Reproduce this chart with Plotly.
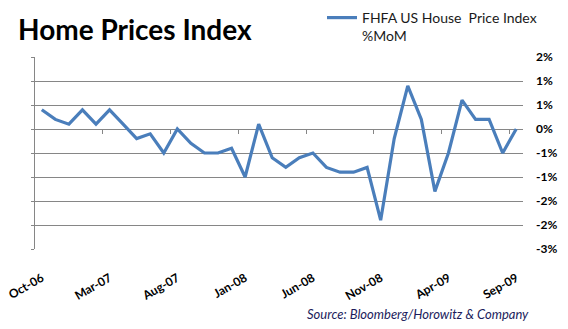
import plotly.graph_objects as go

months = ["Oct-06", "Nov-06", "Dec-06", "Jan-07", "Feb-07", "Mar-07", "Apr-07", "May-07",
          "Jun-07", "Jul-07", "Aug-07", "Sep-07", "Oct-07", "Nov-07", "Dec-07", "Jan-08",
          "Feb-08", "Mar-08", "Apr-08", "May-08", "Jun-08", "Jul-08", "Aug-08", "Sep-08",
          "Oct-08", "Nov-08", "Dec-08", "Jan-09", "Feb-09", "Mar-09", "Apr-09", "May-09",
          "Jun-09", "Jul-09", "Aug-09", "Sep-09"]
mom_pct = [0.4, 0.2, 0.1, 0.4, 0.1, 0.4, 0.1, -0.2, -0.1, -0.5, 0.0, -0.3,
           -0.5, -0.5, -0.4, -1.0, 0.1, -0.6, -0.8, -0.6, -0.5, -0.8, -0.9, -0.9,
           -0.8, -1.9, -0.2, 0.9, 0.2, -1.3, -0.5, 0.6, 0.2, 0.2, -0.5, 0.0]
y_tickvals = [1.5, 1.0, 0.5, 0.0, -0.5, -1.0, -1.5, -2.0, -2.5]
y_ticktext = ["2%", "1%", "1%", "0%", "-1%", "-1%", "-2%", "-2%", "-3%"]
x_label_step = 5
series_name = "FHFA US House  Price Index<br>%MoM"
title_text = "Home Prices Index"
source_text = "Source: Bloomberg/Horowitz & Company"

y_range = [-2.5, 1.5]
n = len(months)
grid = "#868686"

fig = go.Figure()
fig.add_trace(go.Scatter(x=months, y=mom_pct, mode="lines", name=series_name,
                         line=dict(color="#4A7EBB", width=3.2), showlegend=True))
# helper traces to activate overlay axes
fig.add_trace(go.Scatter(x=[], y=[], xaxis="x", yaxis="y2", showlegend=False, hoverinfo="skip"))
fig.add_trace(go.Scatter(x=[], y=[], xaxis="x2", yaxis="y", showlegend=False, hoverinfo="skip"))

fig.update_layout(
    width=568, height=329,
    margin=dict(l=35, r=45, t=57, b=80, autoexpand=False),
    paper_bgcolor="white", plot_bgcolor="white",
    font=dict(family="Lato", color="#000000"),
    title=dict(text="<b>" + title_text + "</b>", x=18 / 568, xanchor="left", xref="container",
               y=1 - 30 / 329, yanchor="middle", yref="container",
               font=dict(family="Lato", size=28, color="#000000")),
    xaxis=dict(type="category", range=[-0.5, n - 0.5], tickvals=months[::x_label_step],
               ticktext=months[::x_label_step], tickangle=-30, showgrid=False, showline=False,
               ticks="", zeroline=False, ticklabelstandoff=19,
               tickfont=dict(family="Lato", size=12, color="#000000", weight="bold")),
    xaxis2=dict(overlaying="x", anchor="free",
                position=(0 - y_range[0]) / (y_range[1] - y_range[0]),
                range=[-0.5, n - 0.5],
                tickvals=[k - 0.5 for k in range(x_label_step, n, x_label_step)],
                ticks="outside", ticklen=4, tickcolor=grid, showticklabels=False,
                showgrid=False, showline=False, zeroline=False),
    yaxis=dict(range=y_range, side="right", tickvals=y_tickvals, ticktext=y_ticktext,
               showgrid=True, gridcolor=grid, gridwidth=1, zeroline=False, showline=False,
               ticks="", ticklabelstandoff=12,
               tickfont=dict(family="Lato", size=12, color="#000000", weight="bold")),
    yaxis2=dict(overlaying="y", side="left", range=y_range, tickvals=y_tickvals,
                showticklabels=False, ticks="outside", ticklen=3, tickcolor=grid,
                showline=True, linecolor=grid, linewidth=1, showgrid=False, zeroline=False),
    legend=dict(x=322 / 568, xref="container", xanchor="left", y=1 - 2 / 329, yref="container",
                yanchor="top", valign="top", bgcolor="rgba(0,0,0,0)",
                font=dict(family="Lato", size=14, color="#1a1a1a"), tracegroupgap=0),
    annotations=[dict(text="<i>" + source_text + "</i>", xref="paper", yref="paper",
                      x=(531 - 35) / 488, xanchor="right", y=(249 - 314) / 192, yanchor="middle",
                      showarrow=False, font=dict(family="Lato", size=13, color="#1C1C5C"))],
)

fig.write_html("out.html")
